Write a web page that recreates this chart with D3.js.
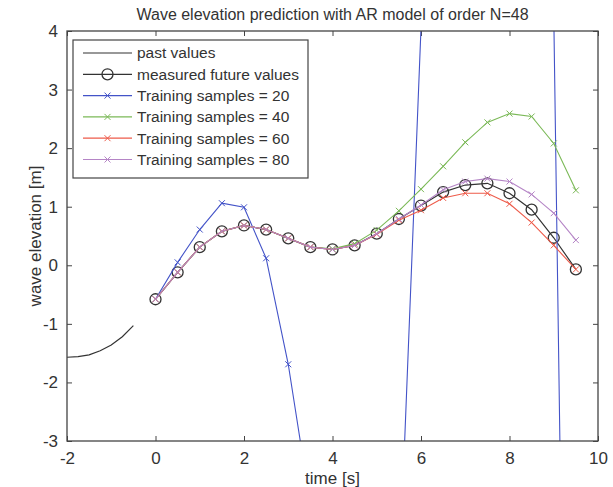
<!DOCTYPE html>
<html>
<head>
<meta charset="utf-8">
<script src="https://cdn.jsdelivr.net/npm/d3@7"></script>
<style>
  body { margin: 0; background: #fff; }
  text { font-family: "Liberation Sans", Arial, sans-serif; fill: #333; }
</style>
</head>
<body>
<script>
// past record (before t = 0)
var pastTime = [-2, -1.75, -1.5, -1.25, -1, -0.75, -0.5];
var pastValues = [-1.57, -1.56, -1.53, -1.46, -1.36, -1.22, -1.03];

// prediction horizon, t = 0 : 0.5 : 9.5
var futureTime = [0, 0.5, 1, 1.5, 2, 2.5, 3, 3.5, 4, 4.5, 5, 5.5, 6, 6.5, 7, 7.5, 8, 8.5, 9, 9.5];
var measured = [-0.58, -0.12, 0.31, 0.58, 0.68, 0.61, 0.46, 0.31, 0.27, 0.34, 0.54, 0.79, 1.02, 1.25, 1.37, 1.40, 1.23, 0.95, 0.47, -0.07];
var train20 = [-0.58, 0.05, 0.61, 1.06, 0.99, 0.12, -1.69, -4.1, -8, -12, -11, -5.5, 4.05, 12, 20, 24, 22, 12, 4.3, -22];
var train40 = [-0.58, -0.12, 0.31, 0.58, 0.68, 0.61, 0.46, 0.31, 0.28, 0.37, 0.60, 0.93, 1.30, 1.69, 2.10, 2.44, 2.59, 2.54, 2.08, 1.28];
var train60 = [-0.58, -0.12, 0.31, 0.58, 0.68, 0.61, 0.46, 0.31, 0.27, 0.34, 0.53, 0.77, 0.94, 1.15, 1.23, 1.23, 1.05, 0.73, 0.34, -0.07];
var train80 = [-0.58, -0.12, 0.31, 0.58, 0.68, 0.61, 0.46, 0.31, 0.27, 0.34, 0.54, 0.79, 1.03, 1.29, 1.43, 1.48, 1.43, 1.21, 0.89, 0.43];

var legendLabels = ["past values", "measured future values", "Training samples = 20",
  "Training samples = 40", "Training samples = 60", "Training samples = 80"];
var xTicks = [-2, 0, 2, 4, 6, 8, 10];
var yTicks = [-3, -2, -1, 0, 1, 2, 3, 4];

var W = 613, H = 487;
var margin = { top: 31, right: 15, bottom: 46, left: 67 };
var width = W - margin.left - margin.right;
var height = H - margin.top - margin.bottom;

var x = d3.scaleLinear().domain([-2, 10]).range([0, width]);
var y = d3.scaleLinear().domain([-3, 4]).range([height, 0]);

var svg = d3.select("body").append("svg")
  .attr("width", W).attr("height", H)
  .append("g")
  .attr("transform", "translate(" + margin.left + "," + margin.top + ")");

svg.append("defs").append("clipPath").attr("id", "plotclip")
  .append("rect").attr("width", width).attr("height", height);

var axisColor = "#444";
var plain = d => String(d);   // hyphen minus like the original

// axes (matlab style box, ticks inside)
function styleAxis(g) {
  g.select(".domain").remove();
  g.selectAll(".tick line").attr("stroke", axisColor);
  g.selectAll(".tick text").style("font-size", "17px").attr("fill", "#333");
}
svg.append("g").attr("transform", "translate(0," + height + ")")
  .call(d3.axisBottom(x).tickValues(xTicks).tickSize(-5).tickPadding(11).tickFormat(plain))
  .call(styleAxis);
svg.append("g")
  .call(d3.axisTop(x).tickValues(xTicks).tickSize(-5).tickFormat(""))
  .call(styleAxis);
svg.append("g")
  .call(d3.axisLeft(y).tickValues(yTicks).tickSize(-5).tickPadding(9).tickFormat(plain))
  .call(styleAxis);
svg.append("g").attr("transform", "translate(" + width + ",0)")
  .call(d3.axisRight(y).tickValues(yTicks).tickSize(-5).tickFormat(""))
  .call(styleAxis);

var plot = svg.append("g").attr("clip-path", "url(#plotclip)");

var line = d3.line().x(d => x(d[0])).y(d => y(d[1]));
function pairs(t, v) { return t.map((d, i) => [d, v[i]]); }

var series = [
  { values: train20, color: "#4353c8" },
  { values: train40, color: "#7bb957" },
  { values: train60, color: "#ee5b4a" },
  { values: train80, color: "#b585c6" }
];

// past values
plot.append("path").datum(pairs(pastTime, pastValues))
  .attr("d", line).attr("fill", "none").attr("stroke", "#333").attr("stroke-width", 1.2);

// measured future values
plot.append("path").datum(pairs(futureTime, measured))
  .attr("d", line).attr("fill", "none").attr("stroke", "#333").attr("stroke-width", 1.2);
plot.selectAll("circle.meas").data(pairs(futureTime, measured))
  .enter().append("circle").attr("class", "meas")
  .attr("cx", d => x(d[0])).attr("cy", d => y(d[1])).attr("r", 5.5)
  .attr("fill", "none").attr("stroke", "#333").attr("stroke-width", 1.3);

function xMark(sel, color) {
  sel.append("path").attr("d", "M-3,-3L3,3M-3,3L3,-3")
    .attr("stroke", color).attr("stroke-width", 1);
}

series.forEach(function (s) {
  var pts = pairs(futureTime, s.values);
  plot.append("path").datum(pts)
    .attr("d", line).attr("fill", "none").attr("stroke", s.color).attr("stroke-width", 1.1);
  plot.append("g").selectAll("g").data(pts).enter().append("g")
    .attr("transform", d => "translate(" + x(d[0]) + "," + y(d[1]) + ")")
    .call(xMark, s.color);
});

// box
svg.append("rect").attr("width", width).attr("height", height)
  .attr("fill", "none").attr("stroke", axisColor).attr("stroke-width", 1.3);

// legend
var lg = svg.append("g").attr("transform", "translate(6,9)");
lg.append("rect").attr("width", 235).attr("height", 138)
  .attr("fill", "#fff").attr("stroke", axisColor).attr("stroke-width", 1.2);
var legendColors = ["#333", "#333"].concat(series.map(s => s.color));
legendLabels.forEach(function (lab, i) {
  var row = lg.append("g").attr("transform", "translate(0," + (13 + i * 21.3) + ")");
  row.append("line").attr("x1", 10).attr("x2", 59)
    .attr("stroke", legendColors[i]).attr("stroke-width", 1.2);
  if (i === 1) {
    row.append("circle").attr("cx", 34.5).attr("r", 5.5)
      .attr("fill", "none").attr("stroke", "#333").attr("stroke-width", 1.3);
  } else if (i > 1) {
    row.append("g").attr("transform", "translate(34.5,0)").call(xMark, legendColors[i]);
  }
  row.append("text").attr("x", 64).attr("dy", "0.35em")
    .style("font-size", "15.5px").text(lab);
});

// labels
svg.append("text").attr("x", width / 2).attr("y", -11)
  .attr("text-anchor", "middle").style("font-size", "16px")
  .text("Wave elevation prediction with AR model of order N=48");
svg.append("text").attr("x", width / 2).attr("y", height + 43)
  .attr("text-anchor", "middle").style("font-size", "17px").text("time [s]");
svg.append("text")
  .attr("transform", "translate(-26," + (height / 2) + ") rotate(-90)")
  .attr("text-anchor", "middle").style("font-size", "17px").text("wave elevation [m]");
</script>
</body>
</html>
